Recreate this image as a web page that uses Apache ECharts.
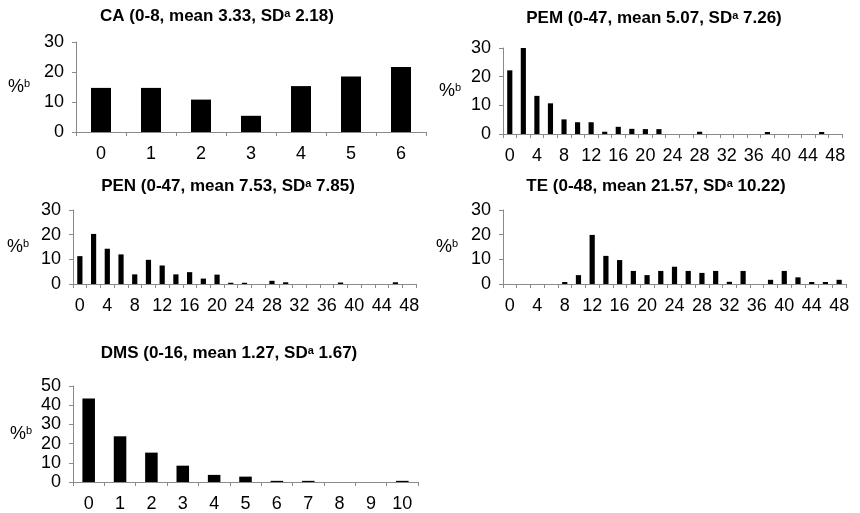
<!DOCTYPE html>
<html>
<head>
<meta charset="utf-8">
<script src="https://cdn.jsdelivr.net/npm/echarts@6/dist/echarts.min.js"></script>
<style>
  html, body { margin: 0; padding: 0; background: #fff; }
  #chart { width: 860px; height: 513px; }
</style>
</head>
<body>
<div id="chart"></div>
<script>
// score categories
const caCats = ['0', '1', '2', '3', '4', '5', '6'];
const binCats = ['0', '2', '4', '6', '8', '10', '12', '14', '16', '18', '20', '22', '24',
  '26', '28', '30', '32', '34', '36', '38', '40', '42', '44', '46', '48'];
const dmsCats = ['0', '1', '2', '3', '4', '5', '6', '7', '8', '9', '10'];

// percentages (%)
const caVals = [14.7, 14.7, 10.8, 5.4, 15.3, 18.5, 21.7];
const pemVals = [22.2, 30, 13.3, 10.7, 5.1, 4.1, 4.1, 0.8, 2.5, 1.8, 1.7, 1.7, 0,
  0, 0.8, 0, 0, 0, 0, 0.7, 0, 0, 0, 0.7, 0];
const penVals = [11.3, 20.3, 14.3, 12, 3.9, 9.8, 7.5, 3.9, 4.8, 2.2, 3.8, 0.5, 0.5,
  0, 1.3, 0.7, 0, 0, 0, 0.6, 0, 0, 0, 0.7, 0];
const teVals = [0, 0, 0, 0, 0.8, 3.6, 19.9, 11.4, 9.7, 5.3, 3.6, 5.3, 7,
  5.3, 4.5, 5.3, 0.9, 5.3, 0, 1.7, 5.3, 2.7, 0.8, 0.8, 1.7];
const dmsVals = [43.5, 23.8, 15.3, 8.5, 3.7, 2.8, 0.6, 0.6, 0, 0, 0.6];

// panel titles: [before superscript, after superscript]
const titles = [
  ['CA (0-8, mean 3.33, SD', ' 2.18)'],
  ['PEM (0-47, mean 5.07, SD', ' 7.26)'],
  ['PEN (0-47, mean 7.53, SD', ' 7.85)'],
  ['TE (0-48, mean 21.57, SD', ' 10.22)'],
  ['DMS (0-16, mean 1.27, SD', ' 1.67)'],
];
const yMax = [30, 30, 30, 30, 50];

const font = '"Liberation Sans", Arial, sans-serif';
const axisColor = '#8a8a8a';

const panels = [
  { cats: caCats, vals: caVals, grid: { left: 76, top: 42, width: 350, height: 90 }, labelInt: 0, bar: '40%', tx: 217, ty: 8, gap: 46 },
  { cats: binCats, vals: pemVals, grid: { left: 503, top: 48, width: 339, height: 86 }, labelInt: 1, bar: '38%', tx: 654, ty: 10, gap: 42 },
  { cats: binCats, vals: penVals, grid: { left: 73, top: 210, width: 343, height: 74 }, labelInt: 1, bar: '38%', tx: 228, ty: 178, gap: 44 },
  { cats: binCats, vals: teVals, grid: { left: 503, top: 210, width: 343, height: 74 }, labelInt: 1, bar: '38%', tx: 656, ty: 178, gap: 45 },
  { cats: dmsCats, vals: dmsVals, grid: { left: 73, top: 386, width: 345, height: 97 }, labelInt: 0, bar: '40%', tx: 229, ty: 345, gap: 41 },
];

const chart = echarts.init(document.getElementById('chart'), null, { renderer: 'canvas' });

chart.setOption({
  animation: false,
  backgroundColor: '#fff',
  title: panels.map((p, i) => ({
    text: '{t|' + titles[i][0] + '}{s|a}{t|' + titles[i][1] + '}',
    left: p.tx,
    top: p.ty,
    textAlign: 'center',
    padding: 0,
    textStyle: {
      rich: {
        t: { fontFamily: font, fontSize: 17, fontWeight: 'bold', color: '#000' },
        s: { fontFamily: font, fontSize: 11, fontWeight: 'bold', color: '#000', verticalAlign: 'top' },
      },
    },
  })),
  grid: panels.map(p => p.grid),
  xAxis: panels.map((p, i) => ({
    type: 'category',
    gridIndex: i,
    data: p.cats,
    axisLine: { lineStyle: { color: axisColor, width: 1 } },
    axisTick: { show: true, interval: 0, length: 4, lineStyle: { color: axisColor } },
    axisLabel: { interval: p.labelInt, margin: 13, fontFamily: font, fontSize: 18, color: '#000' },
  })),
  yAxis: panels.map((p, i) => ({
    type: 'value',
    gridIndex: i,
    min: 0,
    max: yMax[i],
    interval: 10,
    name: '{p|%}{s|b}',
    nameLocation: 'middle',
    nameRotate: 0,
    nameGap: p.gap,
    nameTextStyle: {
      rich: {
        p: { fontFamily: font, fontSize: 18, color: '#000' },
        s: { fontFamily: font, fontSize: 11, color: '#000', verticalAlign: 'top' },
      },
    },
    splitLine: { show: false },
    axisLine: { show: true, lineStyle: { color: axisColor, width: 1 } },
    axisTick: { show: true, length: 4, lineStyle: { color: axisColor } },
    axisLabel: { margin: 12, fontFamily: font, fontSize: 18, color: '#000' },
  })),
  series: panels.map((p, i) => ({
    type: 'bar',
    xAxisIndex: i,
    yAxisIndex: i,
    data: p.vals,
    barWidth: p.bar,
    itemStyle: { color: '#000' },
  })),
});
</script>
</body>
</html>
